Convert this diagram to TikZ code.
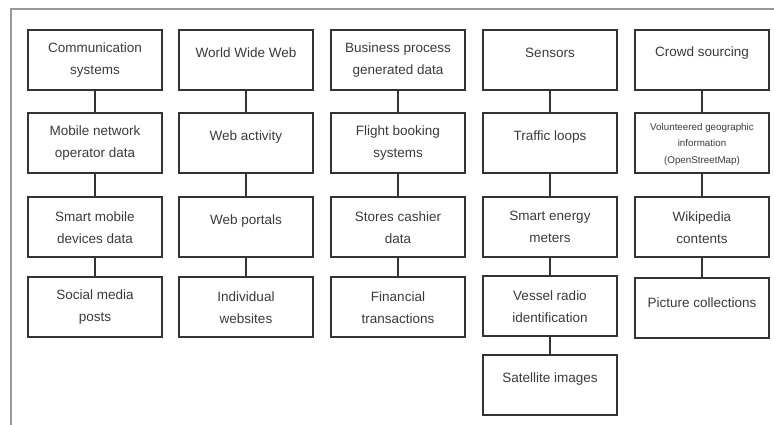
\documentclass[tikz,border=0pt]{standalone}
\usepackage{fontspec}
\setmainfont{Liberation Sans}
\usetikzlibrary{calc}
\definecolor{ink}{HTML}{333333}
\definecolor{txtc}{HTML}{3A3A3A}
\definecolor{frame}{HTML}{9A9A9A}
\tikzset{
  box/.style={draw=ink, line width=1.4pt, minimum width=134pt, minimum height=60pt, inner sep=0pt},
  headbox/.style={box, line width=2.4pt},
  txt/.style={text=txtc, align=center, inner sep=0pt, font=\fontsize{13.5}{22}\selectfont},
  smalltxt/.style={txt, font=\fontsize{9.8}{16.5}\selectfont},
  link/.style={draw=ink, line width=2.4pt}
}
\begin{document}
\begin{tikzpicture}[x=1pt,y=1pt]
\useasboundingbox (0,0) rectangle (774,-425);
\draw[frame, line width=1.6pt] (11,-425) -- (11,-9) -- (774,-9);
% boxes: name, center x, top y, style
\newcommand\mkbox[4]{\node[#4] (#1) at (#2,-#3-30) {};}
\newcommand\mktxt[4]{\node[#4] (#1t) at ($(#1.north)+(0,-#2)$) {#3};}
% column 1
\mkbox{a1}{95}{30}{headbox}
\mkbox{a2}{95}{113}{box}
\mkbox{a3}{95}{197}{box}
\mkbox{a4}{95}{277}{box}
% column 2
\mkbox{b1}{246}{30}{headbox}
\mkbox{b2}{246}{113}{box}
\mkbox{b3}{246}{197}{box}
\mkbox{b4}{246}{277}{box}
% column 3
\mkbox{c1}{398}{30}{headbox}
\mkbox{c2}{398}{113}{box}
\mkbox{c3}{398}{197}{box}
\mkbox{c4}{398}{277}{box}
% column 4
\mkbox{d1}{550}{30}{headbox}
\mkbox{d2}{550}{113}{box}
\mkbox{d3}{550}{197}{box}
\mkbox{d4}{550}{276}{box}
\mkbox{d5}{550}{355}{box}
% column 5
\mkbox{e1}{702}{30}{headbox}
\mkbox{e2}{702}{113}{box}
\mkbox{e3}{702}{197}{box}
\mkbox{e4}{702}{278}{box}
% texts
\mktxt{a1}{31}{Communication\\systems}{txt}
\mktxt{a2}{31}{Mobile network\\operator data}{txt}
\mktxt{a3}{31}{Smart mobile\\devices data}{txt}
\mktxt{a4}{31}{Social media\\posts}{txt}
\mktxt{b1}{24}{World Wide Web}{txt}
\mktxt{b2}{25}{Web activity}{txt}
\mktxt{b3}{25}{Web portals}{txt}
\mktxt{b4}{31}{Individual\\websites}{txt}
\mktxt{c1}{31}{Business process\\generated data}{txt}
\mktxt{c2}{31}{Flight booking\\systems}{txt}
\mktxt{c3}{31}{Stores cashier\\data}{txt}
\mktxt{c4}{31}{Financial\\transactions}{txt}
\mktxt{d1}{24}{Sensors}{txt}
\mktxt{d2}{25}{Traffic loops}{txt}
\mktxt{d3}{31}{Smart energy\\meters}{txt}
\mktxt{d4}{31}{Vessel radio\\identification}{txt}
\mktxt{d5}{25}{Satellite images}{txt}
\mktxt{e1}{24}{Crowd sourcing}{txt}
\mktxt{e2}{32}{Volunteered geographic\\information\\(OpenStreetMap)}{smalltxt}
\mktxt{e3}{31}{Wikipedia\\contents}{txt}
\mktxt{e4}{25}{Picture collections}{txt}
% connectors
\foreach \c in {a,b,c}{
  \draw[link] (\c1.south) -- (\c2.north);
  \draw[link] (\c2.south) -- (\c3.north);
  \draw[link] (\c3.south) -- (\c4.north);
}
\draw[link] (d1.south) -- (d2.north);
\draw[link] (d2.south) -- (d3.north);
\draw[link] (d3.south) -- (d4.north);
\draw[link] (d4.south) -- (d5.north);
\draw[link] (e1.south) -- (e2.north);
\draw[link] (e2.south) -- (e3.north);
\draw[link] (e3.south) -- (e4.north);
\end{tikzpicture}
\end{document}
